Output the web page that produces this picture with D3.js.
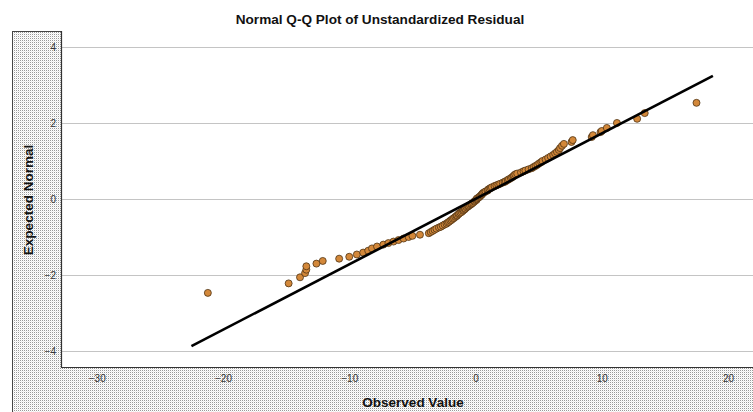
<!DOCTYPE html>
<html>
<head>
<meta charset="utf-8">
<script src="https://cdn.jsdelivr.net/npm/d3@7"></script>
<style>
  body { margin: 0; background: #fff; }
  svg { display: block; font-family: Arial, "Liberation Sans", sans-serif; }
  .tick text { fill: #333; font-size: 10px; }
</style>
</head>
<body>
<div class="chart"></div>
<script>
// Normal Q-Q plot of unstandardized residual

// observed residuals (x) and expected normal values (y)
var observed = [-21.2, -14.8, -13.9, -13.5, -13.4, -13.4, -12.6, -12.1, -10.8, -10.0,
  -9.4, -8.9, -8.5, -8.2, -7.8, -7.3, -6.9, -6.5, -6.1, -5.7,
  -5.3, -5.0, -4.4, -3.7, -3.55, -3.4, -3.25, -3.1, -2.9, -2.75,
  -2.6, -2.45, -2.3, -2.2, -2.1, -2.0, -1.9, -1.8, -1.7, -1.6,
  -1.5, -1.45, -1.35, -1.3, -1.2, -1.1, -1.0, -0.95, -0.85, -0.8,
  -0.7, -0.6, -0.55, -0.45, -0.35, -0.3, -0.2, -0.1, -0.05, 0.05,
  0.1, 0.1, 0.2, 0.3, 0.35, 0.45, 0.5, 0.55, 0.6, 0.7,
  0.8, 0.95, 1.0, 1.1, 1.2, 1.3, 1.5, 1.65, 1.8, 1.95,
  2.15, 2.3, 2.4, 2.55, 2.65, 2.8, 2.9, 3.0, 3.05, 3.15,
  3.3, 3.6, 3.8, 3.95, 4.2, 4.45, 4.6, 4.75, 4.9, 5.05,
  5.2, 5.3, 5.55, 5.75, 5.95, 6.15, 6.3, 6.45, 6.6, 6.7,
  6.85, 7.0, 7.6, 7.7, 9.2, 9.3, 9.9, 10.0, 10.4, 11.2,
  12.8, 13.4, 17.5];

var expected = [-2.47, -2.22, -2.06, -1.95, -1.86, -1.77, -1.70, -1.63, -1.57, -1.52,
  -1.46, -1.41, -1.36, -1.30, -1.25, -1.20, -1.16, -1.12, -1.08, -1.04,
  -1.00, -0.97, -0.94, -0.90, -0.87, -0.84, -0.81, -0.78, -0.75, -0.73,
  -0.70, -0.67, -0.65, -0.62, -0.60, -0.57, -0.55, -0.52, -0.50, -0.47,
  -0.45, -0.43, -0.40, -0.38, -0.36, -0.34, -0.31, -0.29, -0.27, -0.25,
  -0.22, -0.20, -0.18, -0.16, -0.14, -0.12, -0.10, -0.07, -0.05, -0.03,
  -0.01, 0.01, 0.03, 0.05, 0.07, 0.10, 0.12, 0.14, 0.16, 0.18,
  0.20, 0.22, 0.25, 0.27, 0.29, 0.31, 0.34, 0.36, 0.38, 0.40,
  0.43, 0.45, 0.47, 0.50, 0.52, 0.55, 0.57, 0.60, 0.62, 0.65,
  0.67, 0.70, 0.73, 0.75, 0.78, 0.81, 0.84, 0.87, 0.90, 0.94,
  0.97, 1.00, 1.04, 1.08, 1.12, 1.16, 1.20, 1.24, 1.29, 1.34,
  1.40, 1.45, 1.50, 1.55, 1.63, 1.68, 1.76, 1.79, 1.87, 2.00,
  2.11, 2.26, 2.53];

// reference line end points
var lineX = [-22.5, 18.8];
var lineY = [-3.87, 3.24];

var xTicks = [-30, -20, -10, 0, 10, 20];
var yTicks = [-4, -2, 0, 2, 4];

var svgWidth = 753;
var svgHeight = 412;

// plot area inside the stippled frame
var frame = { left: 12, top: 31 };
var margin = { top: 31, right: -7, bottom: 45, left: 61 };
var width = svgWidth - margin.left - margin.right;
var height = svgHeight - margin.top - margin.bottom;

var svg = d3.select('.chart')
  .append('svg')
  .attr('width', svgWidth)
  .attr('height', svgHeight);

// stipple pattern for the frame
var pat = svg.append('defs').append('pattern')
  .attr('id', 'stipple')
  .attr('width', 2)
  .attr('height', 2)
  .attr('patternUnits', 'userSpaceOnUse');
pat.append('rect').attr('width', 2).attr('height', 2).attr('fill', '#fff');
pat.append('rect').attr('width', 1).attr('height', 1).attr('fill', '#999');
pat.append('rect').attr('x', 1).attr('y', 1).attr('width', 1).attr('height', 1).attr('fill', '#ececec');

svg.append('rect')
  .attr('x', frame.left + 0.5)
  .attr('y', frame.top + 0.5)
  .attr('width', svgWidth + 20)
  .attr('height', svgHeight)
  .attr('fill', 'url(#stipple)')
  .attr('stroke', '#444')
  .attr('stroke-width', 1);

// title
svg.append('text')
  .attr('x', 380)
  .attr('y', 24)
  .attr('text-anchor', 'middle')
  .style('font-size', '13.6px')
  .style('font-weight', 'bold')
  .style('fill', '#111')
  .text('Normal Q-Q Plot of Unstandardized Residual');

var chartGroup = svg.append('g')
  .attr('transform', `translate(${margin.left}, ${margin.top})`);

chartGroup.append('rect')
  .attr('width', width)
  .attr('height', height)
  .attr('fill', '#fff');

var xScale = d3.scaleLinear()
  .domain([-32.83, 22.53])
  .range([0, width]);

var yScale = d3.scaleLinear()
  .domain([-4.42, 4.42])
  .range([height, 0]);

// grid lines
chartGroup.append('g')
  .selectAll('line')
  .data(yTicks)
  .enter()
  .append('line')
  .attr('x1', 0)
  .attr('x2', width)
  .attr('y1', d => Math.round(yScale(d)) + 0.5)
  .attr('y2', d => Math.round(yScale(d)) + 0.5)
  .attr('stroke', '#c4c4c4')
  .attr('stroke-width', 1);

// axes
var bottomAxis = d3.axisBottom(xScale).tickValues(xTicks).tickSize(0).tickPadding(8);
var leftAxis = d3.axisLeft(yScale).tickValues(yTicks).tickSize(0).tickPadding(5);

var xAxisG = chartGroup.append('g')
  .attr('transform', `translate(0, ${height})`)
  .call(bottomAxis);
xAxisG.select('.domain').remove();

var yAxisG = chartGroup.append('g')
  .call(leftAxis);
yAxisG.select('.domain').remove();

// plot border (left and bottom)
chartGroup.append('path')
  .attr('d', `M0.5,0 V${height + 0.5} H${width + 10}`)
  .attr('fill', 'none')
  .attr('stroke', '#333')
  .attr('stroke-width', 1.2);

// axis titles
svg.append('text')
  .attr('transform', `translate(33, 200) rotate(-90)`)
  .attr('text-anchor', 'middle')
  .style('font-size', '13.5px')
  .style('font-weight', 'bold')
  .style('fill', '#111')
  .text('Expected Normal');

svg.append('text')
  .attr('x', 413)
  .attr('y', 407)
  .attr('text-anchor', 'middle')
  .style('font-size', '13.5px')
  .style('font-weight', 'bold')
  .style('fill', '#111')
  .text('Observed Value');

// points
var points = observed.map((d, i) => ({ x: d, y: expected[i] }));

chartGroup.selectAll('circle')
  .data(points)
  .enter()
  .append('circle')
  .attr('cx', d => xScale(d.x))
  .attr('cy', d => yScale(d.y))
  .attr('r', 3.5)
  .attr('fill', '#d3883a')
  .attr('stroke', '#4f3414')
  .attr('stroke-width', 0.8);

// reference line, on top of the points
chartGroup.append('line')
  .attr('x1', xScale(lineX[0]))
  .attr('y1', yScale(lineY[0]))
  .attr('x2', xScale(lineX[1]))
  .attr('y2', yScale(lineY[1]))
  .attr('stroke', '#000')
  .attr('stroke-width', 2.6);
</script>
</body>
</html>
